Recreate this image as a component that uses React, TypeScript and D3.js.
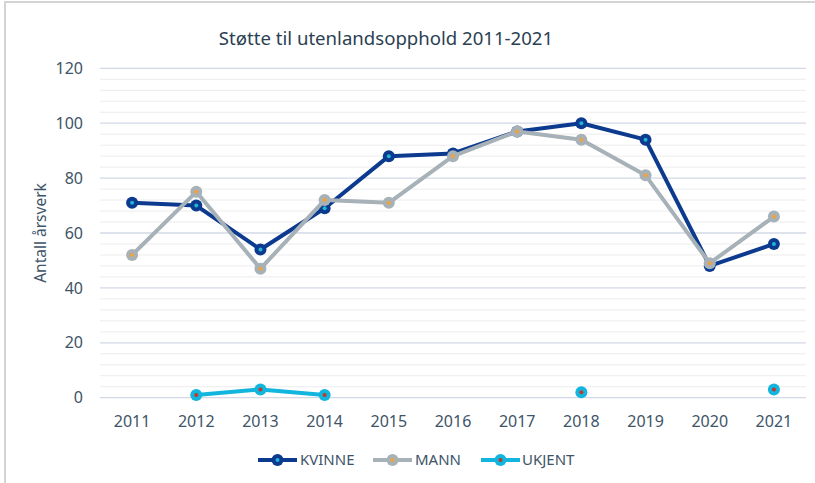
import React from "react";
import * as d3 from "d3";

const years = ["2011","2012","2013","2014","2015","2016","2017","2018","2019","2020","2021"];
const kvinne: (number|null)[] = [71,70,54,69,88,89,97,100,94,48,56];
const mann: (number|null)[] = [52,75,47,72,71,88,97,94,81,49,66];
const ukjent: (number|null)[] = [null,1,3,1,null,null,null,2,null,null,3];
const yTicks = [0,20,40,60,80,100,120];

const series = [
  { name: "KVINNE", values: kvinne, color: "#0b3a8f", inner: "#1fb5d6" },
  { name: "MANN", values: mann, color: "#a7b1b8", inner: "#f0a23c" },
  { name: "UKJENT", values: ukjent, color: "#12b5de", inner: "#c0392b" },
];

const W = 815, H = 483;
const font = "'Noto Sans', sans-serif";
const textColor = "#3e5468";

export default function App() {
  const x = d3.scaleBand<string>().domain(years).range([100, 806]);
  const y = d3.scaleLinear().domain([0, 120]).range([397.7, 68.3]);
  const minor = d3.range(0, 121, 4).filter(v => v % 20 !== 0);
  const cx = (d: string) => (x(d) as number) + x.bandwidth() / 2;
  const line = d3.line<[string, number | null]>()
    .defined(d => d[1] !== null)
    .x(d => cx(d[0]))
    .y(d => y(d[1] as number));

  const legendItems = [
    { s: series[0], x0: 258, tx: 300 },
    { s: series[1], x0: 373, tx: 415 },
    { s: series[2], x0: 481, tx: 522 },
  ];

  return (
    <svg width={W} height={H} style={{ position: "absolute", left: 0, top: 0 }}>
      <rect x={0} y={0} width={W} height={H} fill="#fff" />
      <line x1={4} x2={W} y1={2} y2={2} stroke="#d4d4d4" strokeWidth={2} />
      <line x1={5} x2={5} y1={2} y2={H} stroke="#d4d4d4" strokeWidth={2} />
      <text x={386} y={45} textAnchor="middle" fontFamily={font} fontSize={18.6} fill="#2b3f52">
        Støtte til utenlandsopphold 2011-2021
      </text>
      {minor.map(v => (
        <line key={"m" + v} x1={100} x2={806} y1={y(v)} y2={y(v)} stroke="#ececec" strokeWidth={1} />
      ))}
      {yTicks.map(v => (
        <g key={"t" + v}>
          <line x1={100} x2={806} y1={y(v)} y2={y(v)} stroke="#d3d8e6" strokeWidth={1.3} />
          <text x={83} y={y(v)} dy="0.35em" textAnchor="end" fontFamily={font} fontSize={16} fill={textColor}>{v}</text>
        </g>
      ))}
      {years.map(d => (
        <text key={d} x={cx(d)} y={427} textAnchor="middle" fontFamily={font} fontSize={16} fill={textColor}>{d}</text>
      ))}
      <text transform={`translate(46,233) rotate(-90)`} textAnchor="middle" fontFamily={font} fontSize={15.5} fill={textColor}>
        Antall årsverk
      </text>
      {series.map(s => {
        const pts = years.map((d, i) => [d, s.values[i]] as [string, number | null]);
        return (
          <g key={s.name}>
            <path d={line(pts) || ""} fill="none" stroke={s.color} strokeWidth={4} strokeLinejoin="round" />
            {pts.filter(p => p[1] !== null).map(p => (
              <g key={p[0]}>
                <circle cx={cx(p[0])} cy={y(p[1] as number)} r={6} fill={s.color} />
                <circle cx={cx(p[0])} cy={y(p[1] as number)} r={2} fill={s.inner} />
              </g>
            ))}
          </g>
        );
      })}
      {legendItems.map(({ s, x0, tx }) => (
        <g key={"l" + s.name}>
          <line x1={x0} x2={x0 + 39} y1={460} y2={460} stroke={s.color} strokeWidth={4} />
          <circle cx={x0 + 19.5} cy={460} r={6} fill={s.color} />
          <circle cx={x0 + 19.5} cy={460} r={2} fill={s.inner} />
          <text x={tx} y={460} dy="0.35em" fontFamily={font} fontSize={15} fill={textColor}>{s.name}</text>
        </g>
      ))}
    </svg>
  );
}
